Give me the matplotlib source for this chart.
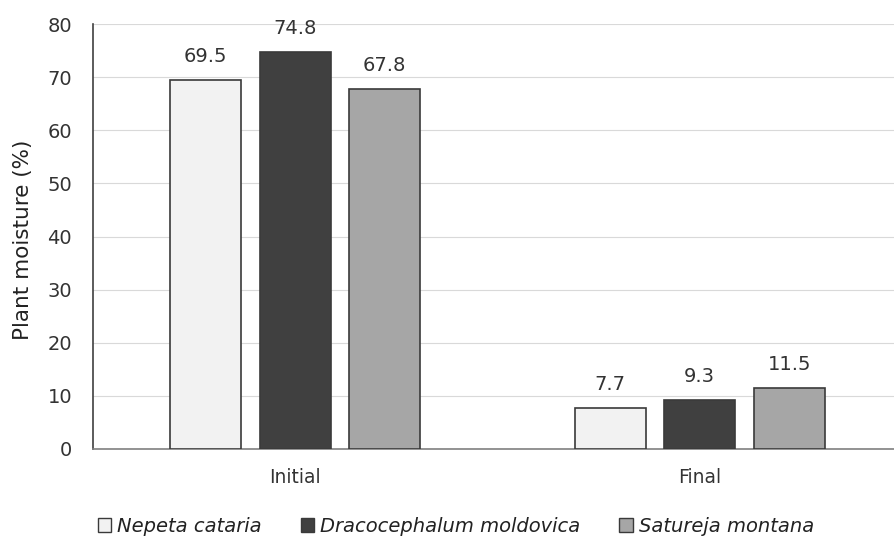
import matplotlib
matplotlib.use("Agg")
import matplotlib.pyplot as plt
import numpy as np
from matplotlib.patches import Patch

categories = ["Initial", "Final"]
series = ["Nepeta cataria", "Dracocephalum moldovica", "Satureja montana"]
values = {
    "Nepeta cataria": [69.5, 7.7],
    "Dracocephalum moldovica": [74.8, 9.3],
    "Satureja montana": [67.8, 11.5],
}
colors = ["#f2f2f2", "#404040", "#a6a6a6"]
yticks = [0, 10, 20, 30, 40, 50, 60, 70, 80]

plt.rcParams['font.family'] = ['DejaVu Sans']

W, H = 895, 542
fig = plt.figure(figsize=(W / 100, H / 100), dpi=100)
ax = fig.add_axes([93 / W, 1 - 449 / H, (902 - 93) / W, (449 - 24) / H])

x = np.arange(len(categories))
pitch = 0.221
width = 0.175
for i, s in enumerate(series):
    xs = x + (i - 1) * pitch
    ax.bar(xs, values[s], width=width, color=colors[i], edgecolor="#3a3a3a",
           linewidth=1.2, zorder=3, label=s)
    for xi, v in zip(xs, values[s]):
        ax.annotate(f"{v}", (xi, v), xytext=(0, 10), textcoords="offset points",
                    ha="center", va="bottom", fontsize=14, color="#333333")

ax.set_xlim(-0.5, 1.5)
ax.set_ylim(0, 80)
ax.set_yticks(yticks)
ax.set_xticks(x)
ax.set_xticklabels(categories, fontsize=13.5, color="#333333")
ax.tick_params(axis="y", labelsize=14, colors="#333333", length=0, pad=15)
ax.tick_params(axis="x", length=0, pad=14)
ax.grid(axis="y", color="#d9d9d9", linewidth=0.8, zorder=0)
for sp in ["top", "right"]:
    ax.spines[sp].set_visible(False)
ax.spines["left"].set_color("#404040")
ax.spines["left"].set_linewidth(1.2)
ax.spines["bottom"].set_color("#808080")
ax.spines["bottom"].set_linewidth(1.2)
ax.set_ylabel("Plant moisture (%)", fontsize=15.5, color="#222222")
ax.yaxis.set_label_coords(23 / W, 1 - 240 / H, transform=fig.transFigure)
ax.yaxis.label.set_va("center")

handles = [Patch(facecolor=colors[i], edgecolor="#3a3a3a", linewidth=1.0) for i in range(3)]
leg = fig.legend(handles, series, loc="center", bbox_to_anchor=(456 / W, 1 - 526 / H),
                 ncol=3, frameon=False, handlelength=0.7, handleheight=0.7,
                 handletextpad=0.3, columnspacing=2.0,
                 prop={"style": "italic", "size": 14})
for t in leg.get_texts():
    t.set_color("#222222")

fig.savefig("out.png", dpi=100)
